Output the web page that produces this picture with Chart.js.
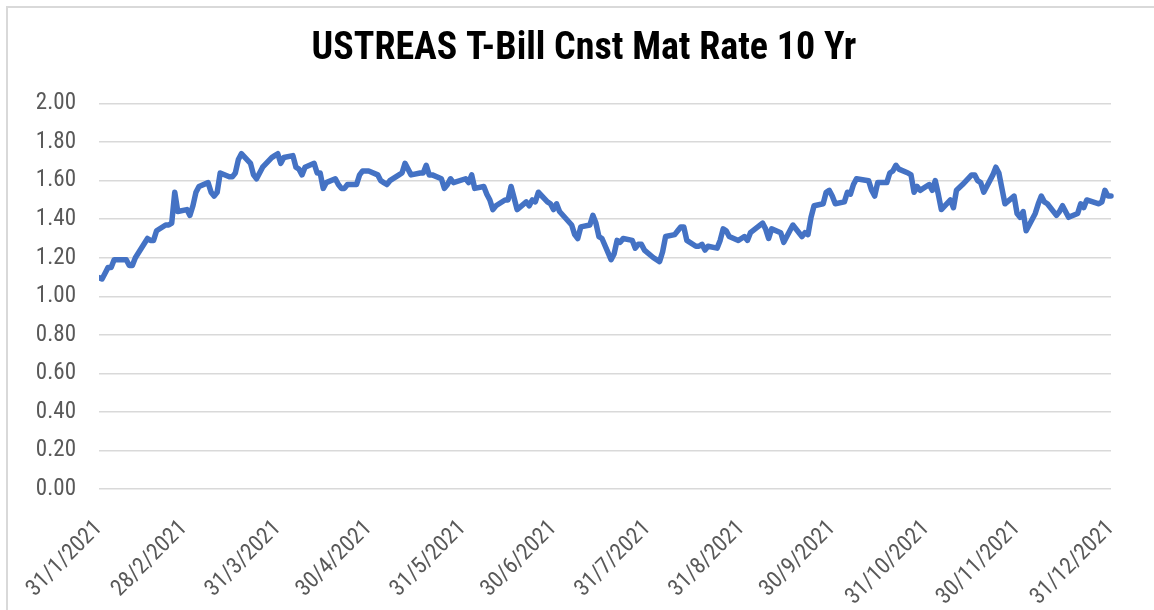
<!DOCTYPE html>
<html>
<head>
<meta charset="utf-8">
<script src="https://cdn.jsdelivr.net/npm/chart.js@4.4.1/dist/chart.umd.min.js"></script>
<style>
  html, body { margin: 0; padding: 0; background: #ffffff; }
  #wrap { width: 1154px; height: 610px; position: relative; }
</style>
</head>
<body>
<div id="wrap"><canvas id="c" width="1154" height="610"></canvas></div>
<script>
const chartTitle = 'USTREAS T-Bill Cnst Mat Rate 10 Yr';

const axisStart = '2021-01-31';
const tickDates = ['2021-01-31','2021-02-28','2021-03-31','2021-04-30','2021-05-31','2021-06-30',
                   '2021-07-31','2021-08-31','2021-09-30','2021-10-31','2021-11-30','2021-12-31'];
const tickLabels = ['31/1/2021','28/2/2021','31/3/2021','30/4/2021','31/5/2021','30/6/2021',
                    '31/7/2021','31/8/2021','30/9/2021','31/10/2021','30/11/2021','31/12/2021'];
const yTickValues = [0, 0.2, 0.4, 0.6, 0.8, 1.0, 1.2, 1.4, 1.6, 1.8, 2.0];

const dates = [
 '2021-01-29',
 '2021-02-01','2021-02-02','2021-02-03','2021-02-04','2021-02-05','2021-02-08','2021-02-09','2021-02-10','2021-02-11','2021-02-12',
 '2021-02-16','2021-02-17','2021-02-18','2021-02-19','2021-02-22','2021-02-23','2021-02-24','2021-02-25','2021-02-26',
 '2021-03-01','2021-03-02','2021-03-03','2021-03-04','2021-03-05','2021-03-08','2021-03-09','2021-03-10','2021-03-11','2021-03-12',
 '2021-03-15','2021-03-16','2021-03-17','2021-03-18','2021-03-19','2021-03-22','2021-03-23','2021-03-24','2021-03-25','2021-03-26',
 '2021-03-29','2021-03-30','2021-03-31',
 '2021-04-01','2021-04-02','2021-04-05','2021-04-06','2021-04-07','2021-04-08','2021-04-09','2021-04-12','2021-04-13','2021-04-14',
 '2021-04-15','2021-04-16','2021-04-19','2021-04-20','2021-04-21','2021-04-22','2021-04-23','2021-04-26','2021-04-27','2021-04-28',
 '2021-04-29','2021-04-30',
 '2021-05-03','2021-05-04','2021-05-05','2021-05-06','2021-05-07','2021-05-10','2021-05-11','2021-05-12','2021-05-13','2021-05-14',
 '2021-05-17','2021-05-18','2021-05-19','2021-05-20','2021-05-21','2021-05-24','2021-05-25','2021-05-26','2021-05-27','2021-05-28',
 '2021-06-01','2021-06-02','2021-06-03','2021-06-04','2021-06-07','2021-06-08','2021-06-09','2021-06-10','2021-06-11','2021-06-14',
 '2021-06-15','2021-06-16','2021-06-17','2021-06-18','2021-06-21','2021-06-22','2021-06-23','2021-06-24','2021-06-25','2021-06-28',
 '2021-06-29','2021-06-30',
 '2021-07-01','2021-07-02','2021-07-06','2021-07-07','2021-07-08','2021-07-09','2021-07-12','2021-07-13','2021-07-14','2021-07-15',
 '2021-07-16','2021-07-19','2021-07-20','2021-07-21','2021-07-22','2021-07-23','2021-07-26','2021-07-27','2021-07-28','2021-07-29',
 '2021-07-30',
 '2021-08-02','2021-08-03','2021-08-04','2021-08-05','2021-08-06','2021-08-09','2021-08-10','2021-08-11','2021-08-12','2021-08-13',
 '2021-08-16','2021-08-17','2021-08-18','2021-08-19','2021-08-20','2021-08-23','2021-08-24','2021-08-25','2021-08-26','2021-08-27',
 '2021-08-30','2021-08-31',
 '2021-09-01','2021-09-02','2021-09-03','2021-09-07','2021-09-08','2021-09-09','2021-09-10','2021-09-13','2021-09-14','2021-09-15',
 '2021-09-16','2021-09-17','2021-09-20','2021-09-21','2021-09-22','2021-09-23','2021-09-24','2021-09-27','2021-09-28','2021-09-29',
 '2021-09-30',
 '2021-10-01','2021-10-04','2021-10-05','2021-10-06','2021-10-07','2021-10-08','2021-10-12','2021-10-13','2021-10-14','2021-10-15',
 '2021-10-18','2021-10-19','2021-10-20','2021-10-21','2021-10-22','2021-10-25','2021-10-26','2021-10-27','2021-10-28','2021-10-29',
 '2021-11-01','2021-11-02','2021-11-03','2021-11-04','2021-11-05','2021-11-08','2021-11-09','2021-11-10','2021-11-12','2021-11-15',
 '2021-11-16','2021-11-17','2021-11-18','2021-11-19','2021-11-22','2021-11-23','2021-11-24','2021-11-26','2021-11-29','2021-11-30',
 '2021-12-01','2021-12-02','2021-12-03','2021-12-06','2021-12-07','2021-12-08','2021-12-09','2021-12-10','2021-12-13','2021-12-14',
 '2021-12-15','2021-12-16','2021-12-17','2021-12-20','2021-12-21','2021-12-22','2021-12-23','2021-12-27','2021-12-28','2021-12-29',
 '2021-12-30','2021-12-31'
];

const rates = [
 1.11,
 1.09,1.12,1.15,1.15,1.19,1.19,1.19,1.16,1.16,1.20,
 1.30,1.29,1.29,1.34,1.37,1.37,1.38,1.54,1.44,
 1.45,1.42,1.47,1.54,1.57,1.59,1.54,1.52,1.54,1.64,
 1.62,1.62,1.64,1.71,1.74,1.69,1.63,1.61,1.64,1.67,
 1.72,1.73,1.74,
 1.69,1.72,1.73,1.67,1.66,1.63,1.67,1.69,1.64,1.64,
 1.56,1.59,1.61,1.58,1.56,1.56,1.58,1.58,1.63,1.65,
 1.65,1.65,
 1.63,1.60,1.59,1.58,1.60,1.63,1.64,1.69,1.66,1.63,
 1.64,1.64,1.68,1.63,1.63,1.61,1.56,1.58,1.61,1.59,
 1.61,1.59,1.63,1.56,1.57,1.53,1.50,1.45,1.47,1.50,
 1.50,1.57,1.51,1.45,1.49,1.47,1.50,1.49,1.54,1.49,
 1.48,1.45,
 1.48,1.44,1.37,1.32,1.30,1.36,1.37,1.42,1.38,1.31,
 1.30,1.19,1.22,1.29,1.28,1.30,1.29,1.25,1.27,1.27,
 1.24,
 1.20,1.19,1.18,1.23,1.31,1.32,1.34,1.36,1.36,1.29,
 1.26,1.26,1.27,1.24,1.26,1.25,1.29,1.35,1.34,1.31,
 1.29,1.30,
 1.31,1.29,1.33,1.38,1.35,1.30,1.35,1.33,1.28,1.31,
 1.34,1.37,1.31,1.33,1.32,1.41,1.47,1.48,1.54,1.55,
 1.52,
 1.48,1.49,1.54,1.53,1.58,1.61,1.60,1.55,1.52,1.59,
 1.59,1.64,1.65,1.68,1.66,1.64,1.63,1.54,1.57,1.55,
 1.58,1.55,1.60,1.53,1.45,1.50,1.46,1.55,1.58,1.63,
 1.63,1.60,1.59,1.54,1.63,1.67,1.64,1.48,1.52,1.43,
 1.41,1.44,1.34,1.43,1.48,1.52,1.49,1.48,1.42,1.44,
 1.47,1.44,1.41,1.43,1.48,1.46,1.50,1.48,1.49,1.55,
 1.52,1.52
];

// day offset from the axis start (31/1/2021)
function dayOffset(s) {
  const a = s.split('-').map(Number);
  const b = axisStart.split('-').map(Number);
  return (Date.UTC(a[0], a[1] - 1, a[2]) - Date.UTC(b[0], b[1] - 1, b[2])) / 86400000;
}
const tickDays = tickDates.map(dayOffset);
const points = dates.map((d, i) => ({ x: dayOffset(d), y: rates[i] }));

const FONT = "'Liberation Sans Narrow', 'Arial Narrow', 'Roboto Condensed', 'DejaVu Sans Condensed', sans-serif";
const LABEL_COLOR = '#595959';
const GRID_COLOR = '#d9d9d9';

const frame = {
  id: 'frame',
  afterLayout(chart) {
    // centre the title over the whole chart box rather than the padded area
    if (chart.titleBlock) chart.titleBlock.left = 57;
  },
  beforeDraw(chart) {
    const ctx = chart.ctx;
    ctx.save();
    ctx.strokeStyle = '#d9d9d9';
    ctx.lineWidth = 2;
    ctx.strokeRect(7, 7, chart.width + 20, chart.height + 20);
    ctx.restore();
  }
};

new Chart(document.getElementById('c'), {
  type: 'line',
  data: {
    datasets: [{
      label: chartTitle,
      data: points,
      borderColor: '#4472C4',
      backgroundColor: '#4472C4',
      borderWidth: 5.5,
      borderJoinStyle: 'round',
      borderCapStyle: 'round',
      pointRadius: 0,
      pointHoverRadius: 0,
      tension: 0,
      fill: false,
      clip: { left: 0, top: false, right: 4, bottom: false }
    }]
  },
  options: {
    responsive: false,
    animation: false,
    events: [],
    layout: { padding: { left: 0, right: 43, top: 0, bottom: 0 } },
    plugins: {
      legend: { display: false },
      tooltip: { enabled: false },
      title: {
        display: true,
        text: chartTitle,
        color: '#000000',
        font: { family: FONT, size: 38, weight: 'bold', lineHeight: 1.2 },
        padding: { top: 27, bottom: 31 }
      }
    },
    scales: {
      x: {
        type: 'linear',
        min: tickDays[0],
        max: tickDays[tickDays.length - 1],
        grid: { display: false, drawTicks: false },
        border: { display: false },
        afterBuildTicks(scale) {
          scale.ticks = tickDays.map(v => ({ value: v }));
        },
        afterFit(scale) {
          scale.height = 121;
          scale.paddingLeft = 0;
          scale.paddingRight = 0;
        },
        ticks: {
          autoSkip: false,
          minRotation: 45,
          maxRotation: 45,
          padding: 26,
          color: LABEL_COLOR,
          font: { family: FONT, size: 23 },
          callback(value) {
            const i = tickDays.indexOf(value);
            return i >= 0 ? tickLabels[i] : '';
          }
        }
      },
      y: {
        min: 0,
        max: 2,
        grid: { color: GRID_COLOR, lineWidth: 1.5, drawTicks: false },
        border: { display: false },
        afterBuildTicks(scale) {
          scale.ticks = yTickValues.map(v => ({ value: v }));
        },
        afterFit(scale) {
          scale.width = 99;
          scale.paddingTop = 0;
          scale.paddingBottom = 0;
        },
        ticks: {
          padding: 23,
          color: LABEL_COLOR,
          font: { family: FONT, size: 23 },
          callback(value) { return Number(value).toFixed(2); }
        }
      }
    }
  },
  plugins: [frame]
});
</script>
</body>
</html>
